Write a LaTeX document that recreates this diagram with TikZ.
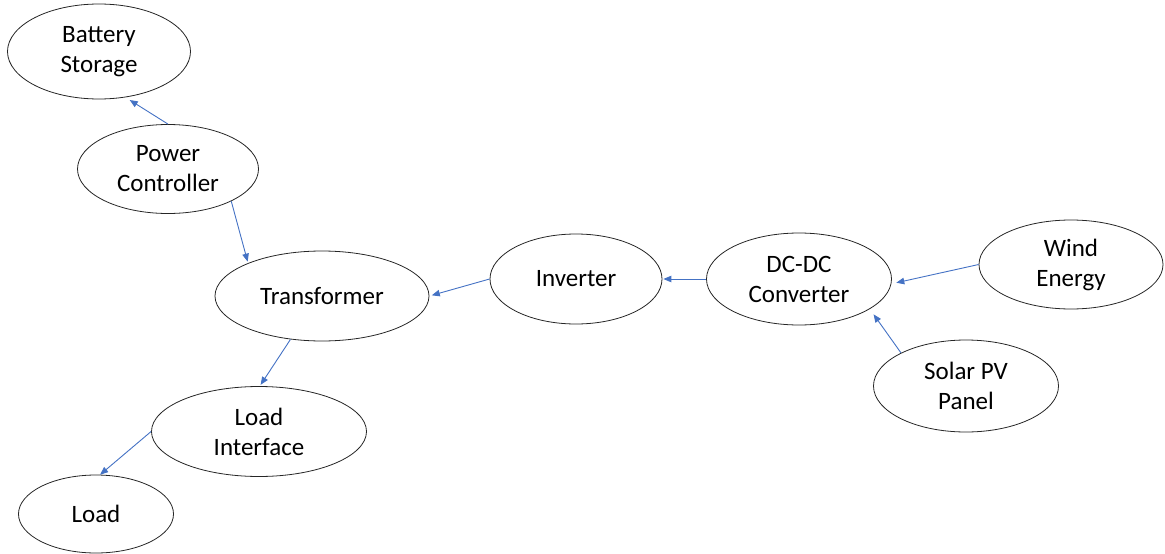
\documentclass[tikz,border=0pt]{standalone}
\usepackage{fontspec}
\setmainfont{Carlito}
\usetikzlibrary{shapes.geometric,arrows.meta}
\definecolor{arrowblue}{HTML}{4472C4}
\begin{document}
\begin{tikzpicture}[x=1pt,y=-1pt,
  blob/.style={ellipse, draw=black!85, line width=0.8pt, inner sep=0pt, align=center,
    font=\fontsize{25}{30}\selectfont},
  flow/.style={draw=arrowblue, line width=0.9pt, -{Triangle[length=8pt,width=6.5pt]}}]
\useasboundingbox (0,0) rectangle (1165,554);
\node[blob, minimum width=183pt, minimum height=95pt] (bs) at (99,51.5) {Battery\\Storage};
\node[blob, minimum width=181pt, minimum height=89pt] (pc) at (168,169) {Power\\Controller};
\node[blob, minimum width=214pt, minimum height=90pt] (tr) at (322,296) {Transformer};
\node[blob, minimum width=172pt, minimum height=90pt] (inv) at (576,279) {Inverter};
\node[blob, minimum width=185pt, minimum height=92pt] (dc) at (799,279) {DC-DC\\Converter};
\node[blob, minimum width=184pt, minimum height=89pt] (wind) at (1071,264.5) {Wind\\Energy};
\node[blob, minimum width=185pt, minimum height=92pt] (solar) at (966,386) {Solar PV\\Panel};
\node[blob, minimum width=215pt, minimum height=90pt] (li) at (259,431.5) {Load\\Interface};
\node[blob, minimum width=155pt, minimum height=78pt] (load) at (96,514) {Load};
\draw[flow, shorten >=5pt] (pc.90) -- (bs.-60);
\draw[flow, shorten >=1.5pt] (pc.-27) -- (tr.156);
\draw[flow, shorten >=2.5pt] (inv.180) -- (tr.0);
\draw[flow, shorten >=1pt] (dc.180) -- (inv.0);
\draw[flow, shorten >=5pt] (wind.180) -- (dc.-3);
\draw[flow, shorten >=6.5pt] (solar.153) -- (dc.-23);
\draw[flow, shorten >=1.5pt] (tr.234) -- (li.89);
\draw[flow] (li.180) -- (load.84);
\end{tikzpicture}
\end{document}
